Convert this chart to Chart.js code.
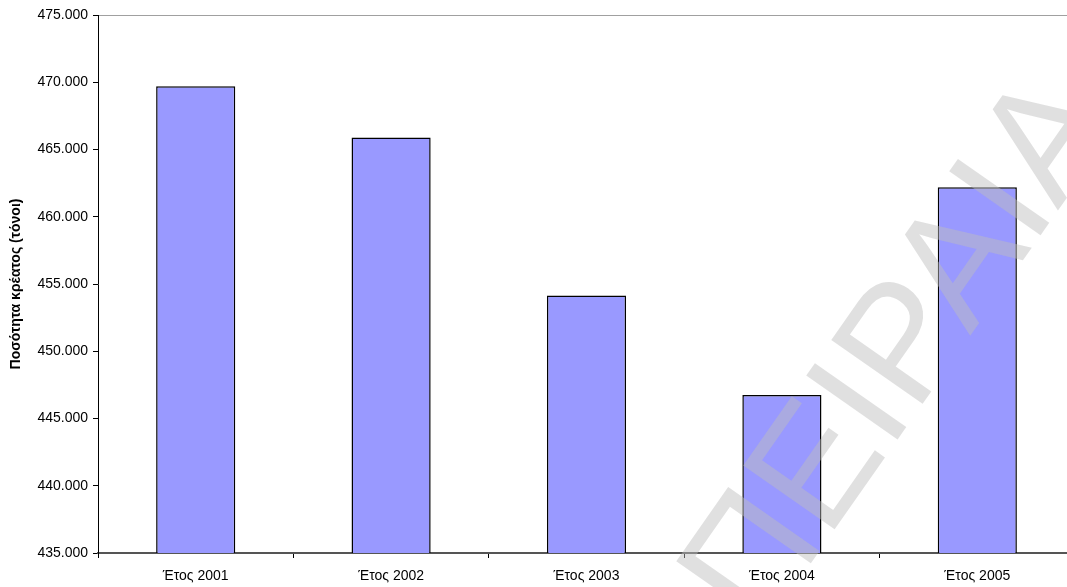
<!DOCTYPE html>
<html>
<head>
<meta charset="utf-8">
<script src="https://cdn.jsdelivr.net/npm/chart.js@4.4.0/dist/chart.umd.min.js"></script>
<style>
  html, body { margin: 0; padding: 0; background: #fff; overflow: hidden; }
  #wrap { width: 1076px; height: 587px; }
</style>
</head>
<body>
<div id="wrap"><canvas id="meatChart" width="1076" height="587"></canvas></div>
<script>
// Ποσότητα κρέατος ανά έτος (τόνοι)
const categories = ['Έτος 2001', 'Έτος 2002', 'Έτος 2003', 'Έτος 2004', 'Έτος 2005'];
const meatTonnes = [469700, 465900, 454150, 446750, 462200];
const yMin = 435000;
const yMax = 475000;
const yStep = 5000;
const yTitle = 'Ποσότητα κρέατος (τόνοι)';
const watermarkText = 'ΠΕΙΡΑΙΑ';

const FONT = 'Arial, "Liberation Sans", sans-serif';

function greekNumber(v) {
    return String(Math.round(v)).replace(/\B(?=(\d{3})+(?!\d))/g, '.');
}

// faint diagonal watermark over the bars
const watermark = {
    id: 'watermark',
    afterDatasetsDraw(chart) {
        const ctx = chart.ctx;
        ctx.save();
        ctx.translate(760, 636);
        ctx.rotate(-55 * Math.PI / 180);
        ctx.font = '162px ' + FONT;
        ctx.textAlign = 'left';
        ctx.textBaseline = 'alphabetic';
        ctx.fillStyle = 'rgba(189, 189, 189, 0.47)';
        ctx.fillText(watermarkText, 0, 0);
        ctx.restore();
    }
};

const ctx = document.getElementById('meatChart').getContext('2d');
new Chart(ctx, {
    type: 'bar',
    data: {
        labels: categories,
        datasets: [{
            data: meatTonnes,
            backgroundColor: '#9999ff',
            borderColor: '#000000',
            borderWidth: 1.5,
            barPercentage: 0.405,
            categoryPercentage: 1
        }]
    },
    options: {
        responsive: false,
        animation: false,
        layout: { padding: { top: 15, right: 1, left: 0, bottom: 0 } },
        plugins: {
            legend: { display: false },
            tooltip: { enabled: false }
        },
        scales: {
            x: {
                grid: {
                    offset: true,
                    drawOnChartArea: false,
                    drawTicks: true,
                    tickLength: 5,
                    tickColor: '#000'
                },
                border: { color: '#555', width: 2 },
                ticks: {
                    color: '#000',
                    font: { family: FONT, size: 14 },
                    padding: 10,
                    maxRotation: 0
                },
                afterFit(scale) { scale.height = 34; }
            },
            y: {
                min: yMin,
                max: yMax,
                grid: {
                    drawOnChartArea: true,
                    tickLength: 5,
                    tickColor: '#000',
                    color: (c) => (c.tick && c.tick.value === yMax) ? '#a0a0a0' : 'rgba(0,0,0,0)'
                },
                border: { color: '#000', width: 1 },
                ticks: {
                    stepSize: yStep,
                    color: '#000',
                    font: { family: FONT, size: 14 },
                    padding: 5,
                    callback: (v) => greekNumber(v)
                },
                title: {
                    display: true,
                    text: yTitle,
                    color: '#000',
                    font: { family: FONT, size: 14, weight: 'bold' },
                    padding: { top: 8, bottom: 0 }
                },
                afterFit(scale) { scale.width = 98; }
            }
        }
    },
    plugins: [watermark]
});
</script>
</body>
</html>
